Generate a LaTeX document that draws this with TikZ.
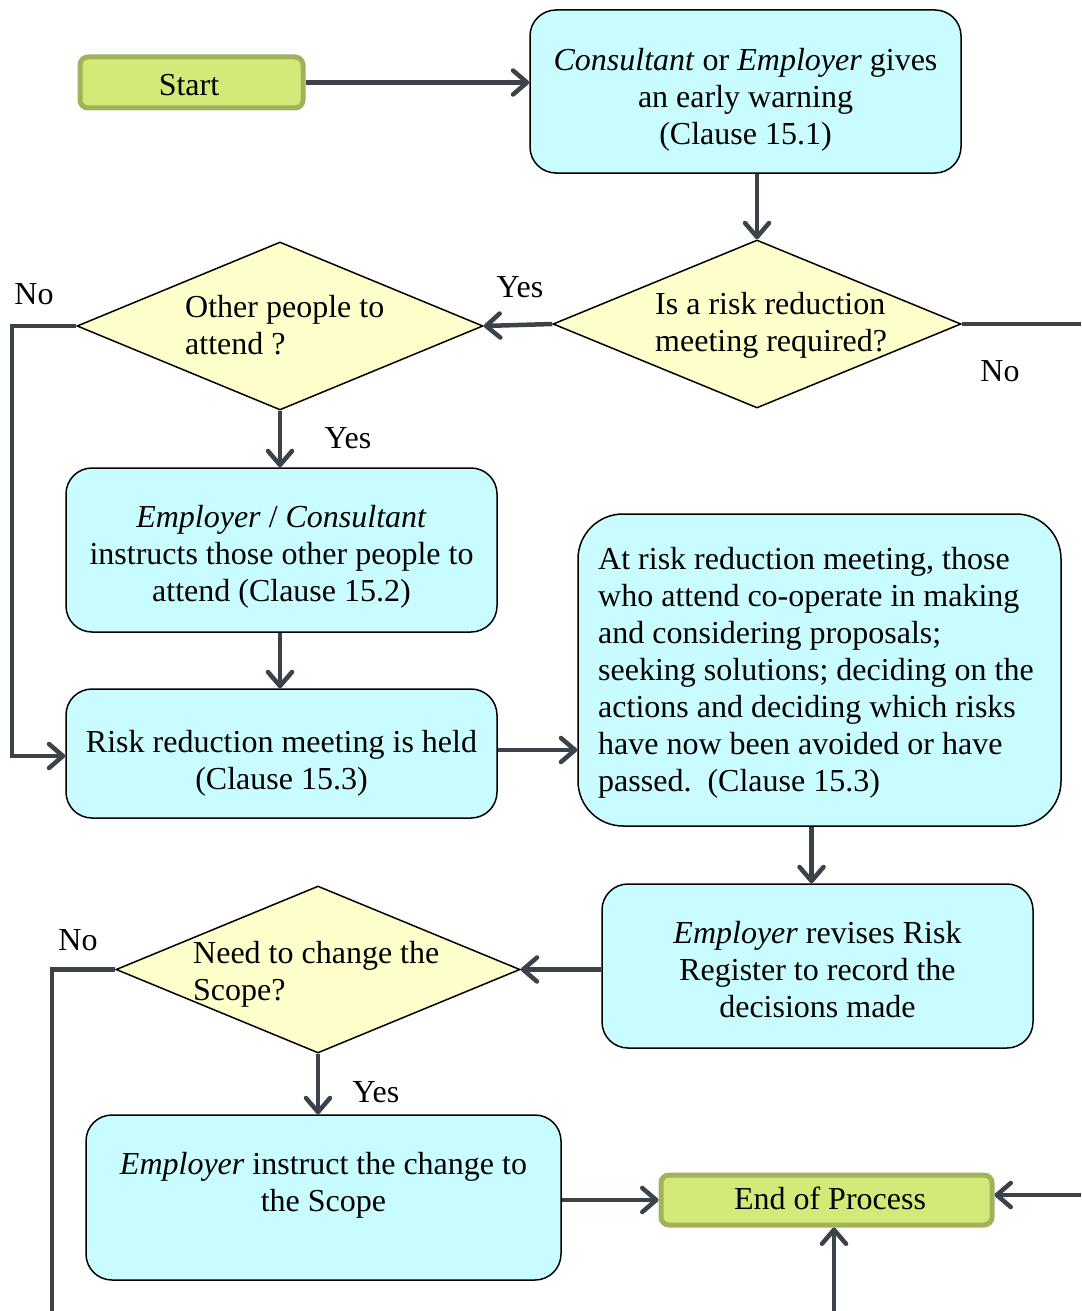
\documentclass[tikz,border=0pt]{standalone}
\usepackage{fontspec}
\setmainfont{Liberation Serif}
\usetikzlibrary{shapes.geometric,arrows.meta,calc}
\definecolor{boxcyan}{HTML}{C8FCFE}
\definecolor{dyellow}{HTML}{FFFFCC}
\definecolor{tgreen}{HTML}{D4EA78}
\definecolor{tgreenb}{HTML}{A0B25A}
\definecolor{conn}{HTML}{3B4249}
\begin{document}
\begin{tikzpicture}[x=1pt,y=-1pt,
  every node/.style={font=\fontsize{32}{37}\selectfont},
  term/.style={draw=tgreenb,fill=tgreen,line width=5pt,rounded corners=8pt,inner sep=0pt},
  procbox/.style={draw=black,fill=boxcyan,line width=1.5pt,rounded corners=26pt,inner sep=0pt},
  decision/.style={draw=black,fill=dyellow,line width=1.5pt,diamond,inner sep=0pt},
  dtext/.style={align=left,anchor=west,inner sep=0pt},
  ctext/.style={align=center,inner sep=0pt},
  lbl/.style={inner sep=0pt},
  conline/.style={draw=conn,line width=4.5pt},
  arr/.style={conline,-{Straight Barb[length=14pt,width=24pt,round]}}
]
\useasboundingbox (0,0) rectangle (1081,1311);

% shapes
\node[term,minimum width=223pt,minimum height=51pt] (start) at (191.5,82.5) {};
\node[ctext] (startt) at (189,85.5) {Start};
\node[procbox,minimum width=431pt,minimum height=163pt] (cons) at (745.5,91.5) {};
\node[ctext] (const) at (745.5,100) {\textit{Consultant} or \textit{Employer} gives\\an early warning\\(Clause 15.1)};
\node[decision,minimum width=408pt,minimum height=168pt] (d1) at (757,324) {};
\node[dtext] (d1t) at (655,325) {Is a risk reduction\\meeting required?};
\node[decision,minimum width=406pt,minimum height=168pt] (d2) at (280,326) {};
\node[dtext] (d2t) at (185,325) {Other people to\\attend ?};
\node[procbox,minimum width=431pt,minimum height=164pt] (instr) at (281.5,550) {};
\node[ctext] (instrt) at (281.5,557) {\textit{Employer} / \textit{Consultant}\\instructs those other people to\\attend (Clause 15.2)};
\node[procbox,minimum width=431pt,minimum height=129pt] (meet) at (281.5,753.5) {};
\node[ctext] (meett) at (281.5,763.5) {Risk reduction meeting is held\\(Clause 15.3)};
\node[procbox,minimum width=483pt,minimum height=312pt,rounded corners=45pt] (big) at (819.5,670) {};
\node[dtext] (bigt) at (598,672.5)
  {At risk reduction meeting, those\\who attend co-operate in making\\and considering proposals;\\seeking solutions; deciding on the\\actions and deciding which risks\\have now been avoided or have\\passed.\ \ (Clause 15.3)};
\node[procbox,minimum width=431pt,minimum height=164pt] (rev) at (817.5,966) {};
\node[ctext] (revt) at (817.5,970) {\textit{Employer} revises Risk\\Register to record the\\decisions made};
\node[decision,minimum width=404pt,minimum height=167pt] (d3) at (318,969.5) {};
\node[dtext] (d3t) at (193,974) {Need to change the\\Scope?};
\node[procbox,minimum width=475pt,minimum height=165pt] (chg) at (323.5,1197.5) {};
\node[ctext] (chgt) at (323.5,1185) {\textit{Employer} instruct the change to\\the Scope};
\node[term,minimum width=331pt,minimum height=50pt] (end) at (826.5,1200) {};
\node[ctext] (endt) at (830,1198) {End of Process};

% labels
\node[lbl] (l1) at (520,287) {Yes};
\node[lbl] (l2) at (1000,371) {No};
\node[lbl] (l3) at (34,294) {No};
\node[lbl] (l4) at (348,438) {Yes};
\node[lbl] (l5) at (78,940) {No};
\node[lbl] (l6) at (376,1092) {Yes};

% free ends
\coordinate (eR1) at (1081,324);
\coordinate (bL) at (12,0);
\coordinate (bL3) at (52,1311);
\coordinate (eR2) at (1081,1195);
\coordinate (eB) at (834,1311);

% connectors
\draw[arr] (start.east) -- (start.east -| cons.west);
\draw[arr] (d1.north |- cons.south) -- (d1.north);
\draw[arr] (d1.west) -- (d2.east);
\draw[conline] (d1.east) -- (eR1);
\draw[arr,line join=miter] (d2.west) -- (d2.west -| bL) -- ($(meet.west -| bL)+(0,2.5)$) -- ($(meet.west)+(0,2.5)$);
\draw[arr] (d2.south) -- (d2.south |- instr.north);
\draw[arr] (d2.south |- instr.south) -- (d2.south |- meet.north);
\draw[arr] ($(meet.east)+(0,-3.5)$) -- ($(meet.east -| big.west)+(0,-3.5)$);
\draw[arr] ([xshift=-8pt]big.south) -- ([xshift=-8pt]big.south |- rev.north);
\draw[arr] (d3.east -| rev.west) -- (d3.east);
\draw[conline,line join=miter] (d3.west) -- (d3.west -| bL3) -- (bL3);
\draw[arr] (d3.south) -- (d3.south |- chg.north);
\draw[arr] (chg.east |- end.west) -- (end.west);
\draw[arr] (eR2) -- (end.east |- eR2);
\draw[arr] (eB) -- (eB |- end.south);
\end{tikzpicture}
\end{document}
